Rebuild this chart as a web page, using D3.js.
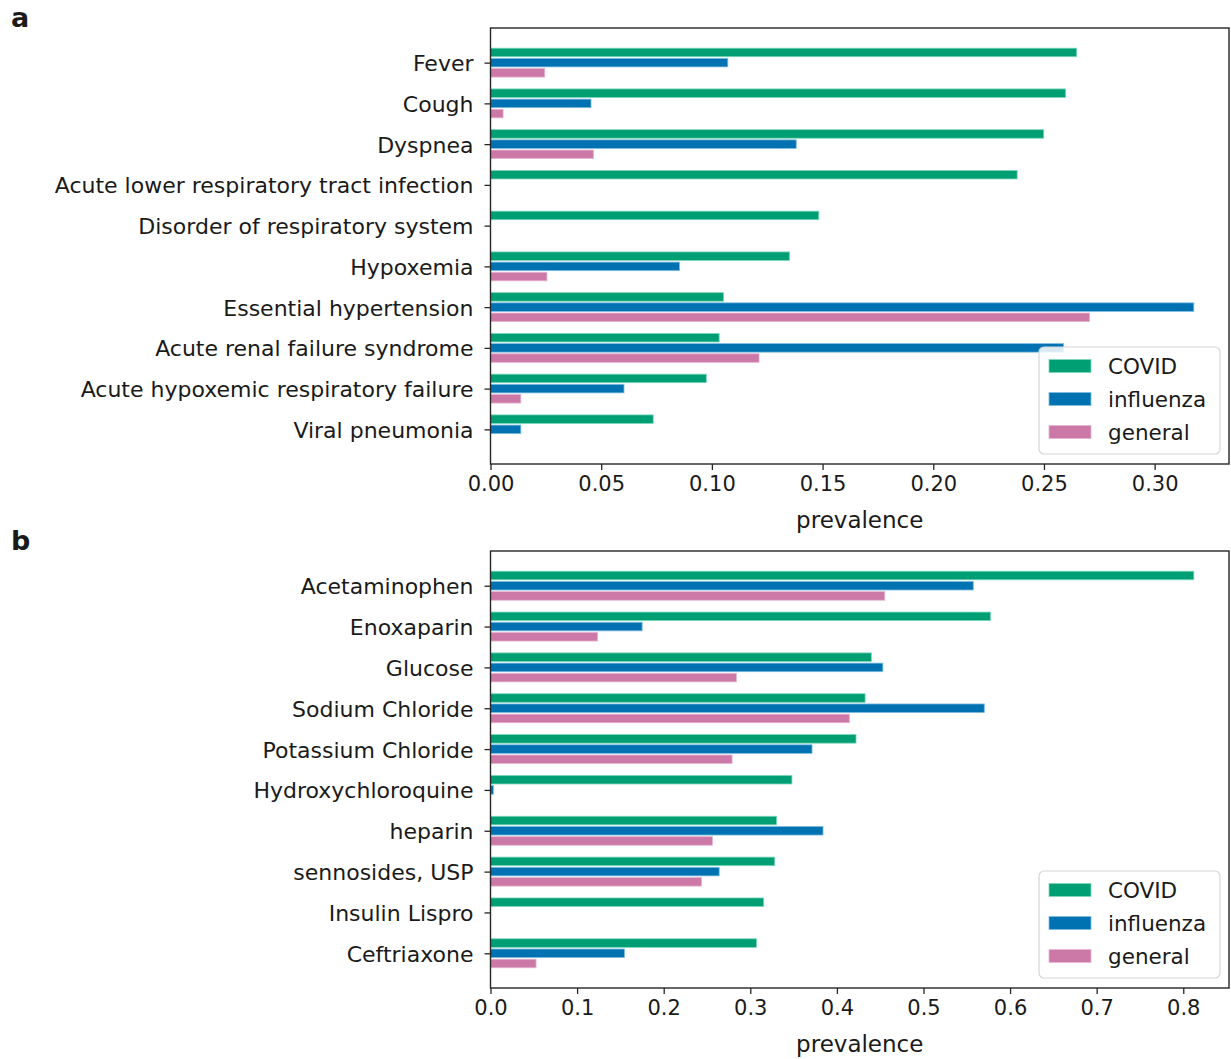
<!DOCTYPE html>
<html>
<head>
<meta charset="utf-8">
<script src="https://cdn.jsdelivr.net/npm/d3@7"></script>
<style>
  html, body { margin: 0; padding: 0; background: #fff; }
  svg { display: block; }
  text { font-family: "DejaVu Sans", sans-serif; fill: #1a1a1a; }
</style>
</head>
<body>
<svg id="chart" width="1231" height="1059"></svg>
<script>
// ---- Panel a: conditions ----
const conditions = [
  "Fever", "Cough", "Dyspnea", "Acute lower respiratory tract infection",
  "Disorder of respiratory system", "Hypoxemia", "Essential hypertension",
  "Acute renal failure syndrome", "Acute hypoxemic respiratory failure",
  "Viral pneumonia"
];
const conditionsCovid     = [0.2648, 0.2598, 0.2499, 0.2379, 0.1483, 0.1351, 0.1053, 0.1033, 0.0975, 0.0735];
const conditionsInfluenza = [0.1072, 0.0454, 0.1381, 0,      0,      0.0854, 0.3177, 0.2589, 0.0603, 0.0137];
const conditionsGeneral   = [0.0245, 0.0057, 0.0465, 0,      0,      0.0255, 0.2706, 0.1213, 0.0137, 0];
const conditionTicks = [0, 0.05, 0.10, 0.15, 0.20, 0.25, 0.30];

// ---- Panel b: medications ----
const medications = [
  "Acetaminophen", "Enoxaparin", "Glucose", "Sodium Chloride",
  "Potassium Chloride", "Hydroxychloroquine", "heparin", "sennosides, USP",
  "Insulin Lispro", "Ceftriaxone"
];
const medicationsCovid     = [0.8122, 0.5774, 0.4398, 0.4326, 0.4221, 0.3481, 0.3304, 0.3282, 0.3155, 0.3072];
const medicationsInfluenza = [0.5575, 0.1751, 0.4531, 0.5702, 0.3713, 0.0034, 0.3840, 0.2641, 0,      0.1547];
const medicationsGeneral   = [0.4553, 0.1237, 0.2840, 0.4144, 0.2790, 0,      0.2563, 0.2436, 0,      0.0526];
const medicationTicks = [0, 0.1, 0.2, 0.3, 0.4, 0.5, 0.6, 0.7, 0.8];

const seriesNames = ["COVID", "influenza", "general"];
const seriesColors = ["#009E73", "#0072B2", "#CC79A7"];
const seriesEdges  = ["#7fd8bd", "#7fbde0", "#e6b6d2"];

const svg = d3.select("#chart");

function drawPanel(opts) {
  const { letter, letterY, top, bottom, left, right, cats, series, ticks, tickFmt } = opts;
  const g = svg.append("g");

  // matplotlib-style 5% margin past the longest bar
  const xMax = d3.max(series.flat()) * 1.05;
  const x = d3.scaleLinear().domain([0, xMax]).range([left, right]);
  const y = d3.scaleLinear().domain([-0.85, cats.length - 1 + 0.85]).range([top, bottom]);

  const barH = y(0.21) - y(0);
  const offsets = [-0.25, 0, 0.25];

  // bars
  series.forEach((vals, s) => {
    g.append("g").selectAll("rect")
      .data(vals.map((v, i) => ({ v, i })).filter(d => d.v > 0))
      .join("rect")
      .attr("x", x(0))
      .attr("y", d => y(d.i + offsets[s]) - barH / 2)
      .attr("width", d => x(d.v) - x(0))
      .attr("height", barH)
      .attr("fill", seriesColors[s])
      .attr("stroke", seriesEdges[s])
      .attr("stroke-width", 0.8);
  });

  // x axis
  const xAxis = g.append("g")
    .attr("transform", `translate(0,${bottom})`)
    .call(d3.axisBottom(x).tickValues(ticks).tickFormat(tickFmt).tickSize(6).tickPadding(6));
  xAxis.select(".domain").remove();
  xAxis.selectAll("line").attr("stroke", "#262626").attr("stroke-width", 1.3);
  xAxis.selectAll("text").style("font-size", "21px").attr("dy", "0.72em");

  // y axis
  const yAxis = g.append("g")
    .attr("transform", `translate(${left},0)`)
    .call(d3.axisLeft(y).tickValues(d3.range(cats.length)).tickFormat(i => cats[i]).tickSize(6).tickPadding(11));
  yAxis.select(".domain").remove();
  yAxis.selectAll("line").attr("stroke", "#262626").attr("stroke-width", 1.3);
  yAxis.selectAll("text").style("font-size", "22px").attr("dy", "0.36em");

  // frame
  g.append("rect")
    .attr("x", left).attr("y", top)
    .attr("width", right - left).attr("height", bottom - top)
    .attr("fill", "none").attr("stroke", "#262626").attr("stroke-width", 1.4);

  // axis title
  g.append("text")
    .attr("x", (left + right) / 2)
    .attr("y", bottom + 64)
    .attr("text-anchor", "middle")
    .style("font-size", "23px")
    .text("prevalence");

  // panel letter
  g.append("text")
    .attr("x", 11)
    .attr("y", letterY)
    .style("font-size", "27px")
    .style("font-weight", "bold")
    .text(letter);

  // legend
  const lx = right - 190, ly = bottom - 117;
  const lg = g.append("g").attr("transform", `translate(${lx},${ly})`);
  lg.append("rect")
    .attr("x", 0).attr("y", 0).attr("width", 181).attr("height", 107)
    .attr("rx", 5).attr("fill", "#fff").attr("fill-opacity", 0.85)
    .attr("stroke", "#d6d6d6").attr("stroke-width", 1.2);
  seriesNames.forEach((name, s) => {
    const cy = 19 + s * 33;
    lg.append("rect")
      .attr("x", 10).attr("y", cy - 6.5).attr("width", 42).attr("height", 13)
      .attr("fill", seriesColors[s]).attr("stroke", seriesEdges[s]).attr("stroke-width", 0.8);
    lg.append("text")
      .attr("x", 69).attr("y", cy).attr("dy", "0.36em")
      .style("font-size", "21.5px")
      .text(name);
  });
}

drawPanel({
  letter: "a", letterY: 27, top: 28, bottom: 464, left: 490.5, right: 1229,
  cats: conditions,
  series: [conditionsCovid, conditionsInfluenza, conditionsGeneral],
  ticks: conditionTicks, tickFmt: d3.format(".2f")
});

drawPanel({
  letter: "b", letterY: 550, top: 551, bottom: 988, left: 490.5, right: 1229,
  cats: medications,
  series: [medicationsCovid, medicationsInfluenza, medicationsGeneral],
  ticks: medicationTicks, tickFmt: d3.format(".1f")
});
</script>
</body>
</html>
